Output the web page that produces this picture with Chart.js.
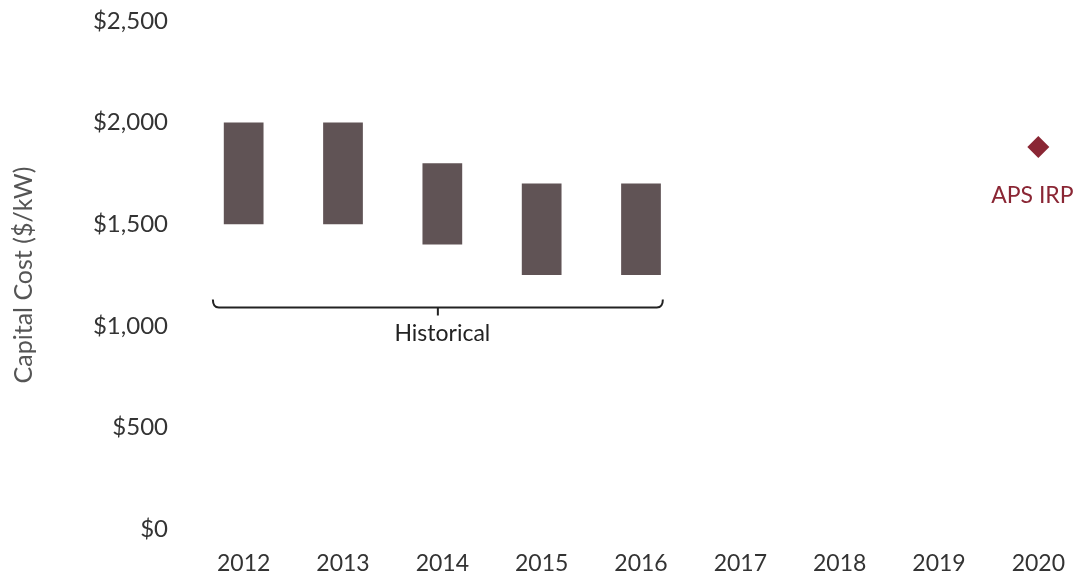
<!DOCTYPE html>
<html>
<head>
<meta charset="utf-8">
<title>Capital Cost ($/kW)</title>
<script src="https://cdn.jsdelivr.net/npm/chart.js@4/dist/chart.umd.min.js"></script>
<style>
    html, body { margin: 0; padding: 0; background: #fff; overflow: hidden; }
    #wrap { width: 1099px; height: 577px; }
</style>
</head>
<body>
<div id="wrap"><canvas id="grafica" width="1099" height="577"></canvas></div>
<script>
// Rangos de costo de capital por año ($/kW)
const anios = ['2012', '2013', '2014', '2015', '2016', '2017', '2018', '2019', '2020'];
const costoMin = [1500, 1500, 1400, 1250, 1250, null, null, null, null];
const costoMax = [2000, 2000, 1800, 1700, 1700, null, null, null, null];
const apsIrp = [null, null, null, null, null, null, null, null, 1880];
const ticksY = [0, 500, 1000, 1500, 2000, 2500];

const FUENTE = 'Lato, "Open Sans", sans-serif';
const COLOR_BARRA = '#605355';
const COLOR_IRP = '#8a2634';

// Llave "Historical" bajo las barras 2012-2016
const llave = { desde: 0, hasta: 4, extIzq: 0.31, extDer: 0.22, valor: 1090, texto: 'Historical' };

const anotaciones = {
    id: 'anotaciones',
    afterDatasetsDraw(chart) {
        const { ctx, scales: { x, y } } = chart;
        const paso = x.getPixelForValue(1) - x.getPixelForValue(0);
        const x0 = x.getPixelForValue(llave.desde) - llave.extIzq * paso;
        const x1 = x.getPixelForValue(llave.hasta) + llave.extDer * paso;
        const xm = (x0 + x1) / 2;
        const yb = y.getPixelForValue(llave.valor);

        ctx.save();
        ctx.strokeStyle = '#222';
        ctx.lineWidth = 2;
        ctx.lineJoin = 'round';
        ctx.beginPath();
        ctx.moveTo(x0, yb - 8);
        ctx.quadraticCurveTo(x0, yb, x0 + 6, yb);
        ctx.lineTo(x1 - 6, yb);
        ctx.quadraticCurveTo(x1, yb, x1, yb - 8);
        ctx.moveTo(xm, yb);
        ctx.lineTo(xm, yb + 8);
        ctx.stroke();

        ctx.fillStyle = '#222';
        ctx.font = '23px ' + FUENTE;
        ctx.textAlign = 'center';
        ctx.textBaseline = 'middle';
        ctx.fillText(llave.texto, x.getPixelForValue(2), yb + 26);

        // Etiqueta del punto APS IRP, un poco corrida a la izquierda
        const meta = chart.getDatasetMeta(1);
        const idx = apsIrp.findIndex(v => v != null);
        const punto = meta.data[idx];
        if (punto) {
            ctx.font = '23px ' + FUENTE;
            ctx.fillStyle = COLOR_IRP;
            ctx.fillText('APS IRP', punto.x - 6, punto.y + 49);
        }
        ctx.restore();
    }
};

const ctx = document.getElementById('grafica').getContext('2d');
new Chart(ctx, {
    data: {
        labels: anios,
        datasets: [
            {
                type: 'bar',
                label: 'Historical',
                data: anios.map((_, i) => costoMin[i] == null ? null : [costoMin[i], costoMax[i]]),
                backgroundColor: COLOR_BARRA,
                borderWidth: 0,
                categoryPercentage: 1,
                barPercentage: 0.4
            },
            {
                type: 'line',
                label: 'APS IRP',
                data: apsIrp,
                showLine: false,
                pointStyle: 'rectRot',
                pointRadius: 11,
                pointBackgroundColor: COLOR_IRP,
                pointBorderColor: COLOR_IRP,
                pointBorderWidth: 0
            }
        ]
    },
    options: {
        responsive: false,
        animation: false,
        layout: { padding: { top: 21, right: 0, bottom: 0, left: 0 } },
        plugins: {
            legend: { display: false },
            tooltip: { enabled: false }
        },
        scales: {
            x: {
                afterFit: scale => { scale.height = 48; },
                grid: { display: false, drawTicks: false },
                border: { display: false },
                ticks: {
                    color: '#333',
                    padding: 21,
                    font: { family: FUENTE, size: 23 }
                }
            },
            y: {
                min: ticksY[0],
                max: ticksY[ticksY.length - 1],
                afterBuildTicks: scale => { scale.ticks = ticksY.map(v => ({ value: v })); },
                afterFit: scale => { scale.width = 194; },
                // las marcas no se dibujan, solo separan las etiquetas del área
                grid: { display: false, drawTicks: true, tickLength: 26 },
                border: { display: false },
                ticks: {
                    color: '#333',
                    padding: 0,
                    font: { family: FUENTE, size: 24 },
                    callback: v => '$' + v.toLocaleString('en-US')
                },
                title: {
                    display: true,
                    text: 'Capital Cost ($/kW)',
                    color: '#555',
                    padding: { top: 9, bottom: 0 },
                    font: { family: FUENTE, size: 25 }
                }
            }
        }
    },
    plugins: [anotaciones]
});
</script>
</body>
</html>
